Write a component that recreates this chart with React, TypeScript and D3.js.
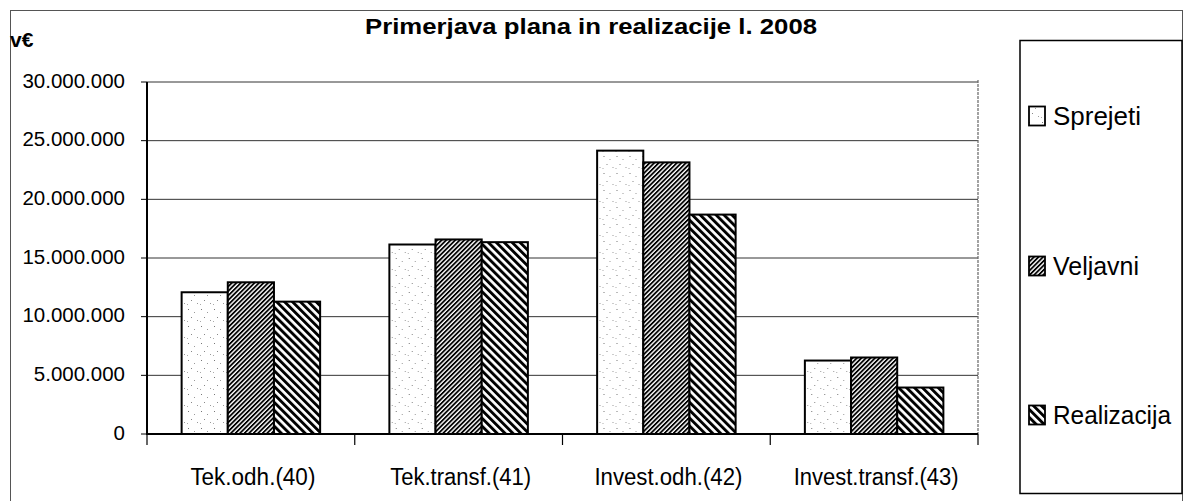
import * as d3 from 'd3';

const categories = ['Tek.odh.(40)', 'Tek.transf.(41)', 'Invest.odh.(42)', 'Invest.transf.(43)'];
const seriesNames = ['Sprejeti', 'Veljavni', 'Realizacija'];
const sprejeti = [12080000, 16150000, 24150000, 6260000];
const veljavni = [12930000, 16580000, 23150000, 6520000];
const realizacija = [11280000, 16350000, 18700000, 3960000];
const yTicks = [0, 5000000, 10000000, 15000000, 20000000, 25000000, 30000000];
const xLabelWidths = [125, 141, 148, 165];
const legendWidths = [88, 86, 118];

const W = 1186;
const H = 501;
const font = '"Liberation Sans", Arial, sans-serif';
const fills = ['url(#dots)', 'url(#fine)', 'url(#wide)'];

const fmt = (v: number) => d3.format(',')(v).replace(/,/g, '.');

export default function App() {
  const values = [sprejeti, veljavni, realizacija];
  const x0 = d3.scaleBand<string>().domain(categories).range([147, 978]).padding(0);
  const x1 = d3.scaleBand<string>().domain(seriesNames).range([0, x0.bandwidth()]).paddingInner(0).paddingOuter(0.75);
  const y = d3.scaleLinear().domain([0, 30000000]).range([434, 82]);

  const boundaries = categories.map((c) => x0(c) as number).concat([978]);

  return (
    <svg width={W} height={H} style={{ position: 'absolute', left: 0, top: 0, background: '#fff' }}>
      <defs>
        <pattern id="dots" patternUnits="userSpaceOnUse" width="13" height="17">
          <rect width="13" height="17" fill="#fff" />
          <rect x="2" y="3" width="1" height="1" fill="#777" />
          <rect x="8" y="6" width="1" height="1" fill="#999" />
          <rect x="5" y="11" width="1" height="1" fill="#888" />
          <rect x="11" y="14" width="1" height="1" fill="#999" />
          <rect x="1" y="15" width="1" height="1" fill="#aaa" />
        </pattern>
        <pattern id="fine" patternUnits="userSpaceOnUse" width="3.2" height="10" patternTransform="rotate(45)">
          <rect width="3.2" height="10" fill="#fff" />
          <rect width="1.8" height="10" fill="#000" />
        </pattern>
        <pattern id="wide" patternUnits="userSpaceOnUse" width="5.6" height="10" patternTransform="rotate(-45)">
          <rect width="5.6" height="10" fill="#fff" />
          <rect width="2.9" height="10" fill="#000" />
        </pattern>
      </defs>

      {/* outer chart frame */}
      <rect x={10.5} y={10.5} width={1172} height={520} fill="none" stroke="#555" strokeWidth={1} />

      <text x={591} y={34} textAnchor="middle" fontFamily={font} fontWeight="bold" fontSize={22} textLength={452} lengthAdjust="spacingAndGlyphs">
        Primerjava plana in realizacije l. 2008
      </text>
      <text x={10} y={47} fontFamily={font} fontWeight="bold" fontSize={21}>v€</text>

      {/* gridlines */}
      {yTicks.filter((t) => t > 0).map((t) => (
        <line key={t} x1={147} x2={978} y1={y(t)} y2={y(t)} stroke="#333" strokeWidth={1} />
      ))}
      <line x1={978} x2={978} y1={80} y2={434} stroke="#666" strokeWidth={1.2} strokeDasharray="3,1" />

      {/* y axis */}
      {yTicks.map((t) => (
        <g key={t}>
          <line x1={141} x2={147} y1={y(t)} y2={y(t)} stroke="#000" strokeWidth={1} />
          <text x={125} y={y(t) - 2} textAnchor="end" dominantBaseline="central" fontFamily={font} fontSize={20.5}>
            {fmt(t)}
          </text>
        </g>
      ))}

      {/* bars */}
      {categories.map((c, i) => (
        <g key={c} transform={`translate(${x0(c)},0)`}>
          {seriesNames.map((s, j) => (
            <rect
              key={s}
              x={x1(s)}
              y={y(values[j][i])}
              width={x1.bandwidth()}
              height={y(0) - y(values[j][i])}
              fill={fills[j]}
              stroke="#000"
              strokeWidth={2}
            />
          ))}
        </g>
      ))}

      <line x1={147} x2={147} y1={82} y2={435} stroke="#000" strokeWidth={2} />
      <line x1={146} x2={978} y1={434} y2={434} stroke="#000" strokeWidth={2} />
      {boundaries.map((b, i) => (
        <line key={i} x1={b} x2={b} y1={434} y2={445} stroke="#000" strokeWidth={1.2} />
      ))}

      {categories.map((c, i) => (
        <text
          key={c}
          x={(x0(c) as number) + x0.bandwidth() / 2 + 2}
          y={485}
          textAnchor="middle"
          fontFamily={font}
          fontSize={23}
          textLength={xLabelWidths[i]}
          lengthAdjust="spacingAndGlyphs"
        >
          {c}
        </text>
      ))}

      {/* legend */}
      <rect x={1020} y={40.5} width={162} height={453} fill="#fff" stroke="#000" strokeWidth={1.5} />
      {seriesNames.map((s, j) => {
        const cy = [116, 266, 415][j];
        return (
          <g key={s}>
            <rect x={1029} y={cy - 9.5} width={16} height={19} fill={fills[j]} stroke="#000" strokeWidth={1.8} />
            <text
              x={1053}
              y={cy + 9}
              fontFamily={font}
              fontSize={26}
              textLength={legendWidths[j]}
              lengthAdjust="spacingAndGlyphs"
            >
              {s}
            </text>
          </g>
        );
      })}
    </svg>
  );
}
